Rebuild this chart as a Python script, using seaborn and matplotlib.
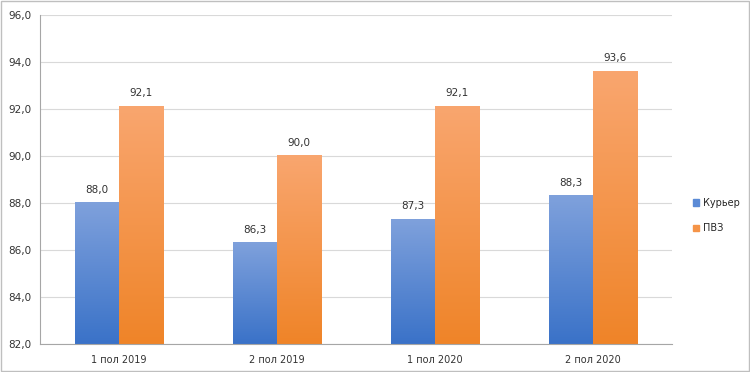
import numpy as np
import pandas as pd
import matplotlib
matplotlib.use("Agg")
import matplotlib.pyplot as plt
import seaborn as sns
from matplotlib.colors import LinearSegmentedColormap
from matplotlib.patches import Rectangle

# Chart data
periods = ["1 пол 2019", "2 пол 2019", "1 пол 2020", "2 пол 2020"]
courier = [88.0, 86.3, 87.3, 88.3]
pickup = [92.1, 90.0, 92.1, 93.6]
series_names = ["Курьер", "ПВЗ"]

df = pd.DataFrame({
    "period": periods * 2,
    "value": courier + pickup,
    "series": [series_names[0]] * 4 + [series_names[1]] * 4,
})

sns.set_theme(style="white")
plt.rcParams["font.family"] = ["DejaVu Sans"]

fig = plt.figure(figsize=(7.5, 3.72), dpi=100)
ax = fig.add_axes([0.053, 0.075, 0.843, 0.885])

mid_colors = ["#5b8bd6", "#f59448"]
sns.barplot(data=df, x="period", y="value", hue="series", palette=mid_colors,
            width=0.56, ax=ax, legend=True, errorbar=None, saturation=1)

ymin, ymax = 82, 96
grads = {
    0: LinearSegmentedColormap.from_list("b", ["#3a72c8", "#7fa1dc"]),
    1: LinearSegmentedColormap.from_list("o", ["#ef8428", "#f9a66f"]),
}
for i, cont in enumerate(ax.containers):
    for p in cont:
        x, w, h = p.get_x(), p.get_width(), p.get_height()
        grad = np.linspace(0, 1, 256).reshape(-1, 1)
        ax.imshow(grad, cmap=grads[i], origin="lower", aspect="auto",
                  extent=[x, x + w, ymin, h], zorder=2)
        p.set_alpha(0)
    ax.bar_label(cont, labels=[f"{v:.1f}".replace(".", ",") for v in cont.datavalues],
                 padding=6, fontsize=7.5, color="#333333")

ax.set_xlim(-0.5, 3.5)
ax.set_ylim(ymin, ymax)
ax.set_yticks(np.arange(82, 97, 2))
ax.set_yticklabels([f"{v:.1f}".replace(".", ",") for v in np.arange(82, 97, 2)],
                   fontsize=7.5, color="#333333")
ax.tick_params(axis="x", labelsize=7, colors="#333333", length=0, pad=8)
ax.set_xticks(np.arange(0.5, 3, 1), minor=True)
ax.tick_params(axis="x", which="minor", length=4, color="#a6a6a6", direction="out")
ax.tick_params(axis="y", length=0, pad=6)
ax.set_xlabel("")
ax.set_ylabel("")
ax.yaxis.grid(True, color="#d9d9d9", linewidth=0.8)
ax.set_axisbelow(True)
for s in ["top", "right"]:
    ax.spines[s].set_visible(False)
for s in ["left", "bottom"]:
    ax.spines[s].set_color("#a6a6a6")
    ax.spines[s].set_linewidth(0.8)

handles = [Rectangle((0, 0), 1, 1, color=c) for c in ["#5b8bd6", "#f59448"]]
ax.legend(handles, series_names, loc="center left", bbox_to_anchor=(1.02, 0.39),
          frameon=False, fontsize=7, handlelength=0.6, handleheight=0.6,
          handletextpad=0.4, labelspacing=1.6)

fig.patches.append(Rectangle((0.001, 0.002), 0.997, 0.995, transform=fig.transFigure,
                             fill=False, edgecolor="#bfbfbf", linewidth=1))

fig.savefig("out.png", dpi=100)
